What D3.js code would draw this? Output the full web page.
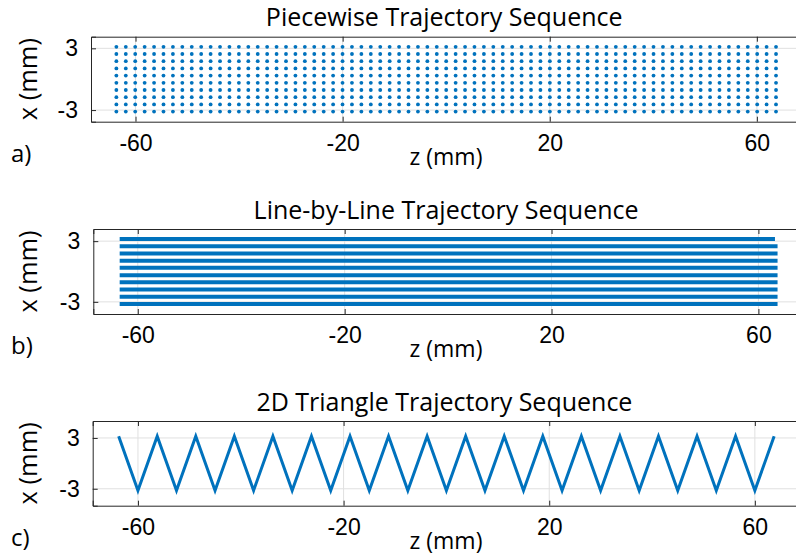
<!DOCTYPE html>
<html>
<head>
<meta charset="utf-8">
<script src="https://cdn.jsdelivr.net/npm/d3@7"></script>
<style>
  html, body { margin: 0; padding: 0; background: #fff; }
  svg { display: block; font-family: "Open Sans", sans-serif; }
</style>
</head>
<body>
<svg width="796" height="557"></svg>
<script>
// ticks
const zTicks = [-60, -20, 20, 60];
const xTicks = [-3, 3];

// a) piecewise: grid of points
const pieceZ = [-63.7, -61.88, -60.06, -58.24, -56.42, -54.6, -52.78, -50.96, -49.14, -47.32,
  -45.5, -43.68, -41.86, -40.04, -38.22, -36.4, -34.58, -32.76, -30.94, -29.12,
  -27.3, -25.48, -23.66, -21.84, -20.02, -18.2, -16.38, -14.56, -12.74, -10.92,
  -9.1, -7.28, -5.46, -3.64, -1.82, 0, 1.82, 3.64, 5.46, 7.28,
  9.1, 10.92, 12.74, 14.56, 16.38, 18.2, 20.02, 21.84, 23.66, 25.48,
  27.3, 29.12, 30.94, 32.76, 34.58, 36.4, 38.22, 40.04, 41.86, 43.68,
  45.5, 47.32, 49.14, 50.96, 52.78, 54.6, 56.42, 58.24, 60.06, 61.88, 63.7];
const pieceX = [3.15, 2.45, 1.75, 1.05, 0.35, -0.35, -1.05, -1.75, -2.45, -3.15];

// b) line-by-line: one line per row
const lineX = [3.2, 2.49, 1.78, 1.07, 0.36, -0.36, -1.07, -1.78, -2.49, -3.2];
const lineStart = [-63.5, -63.5, -63.5, -63.5, -63.5, -63.5, -63.5, -63.5, -63.5, -63.5];
const lineEnd = [63.2, 63.7, 63.7, 63.7, 63.7, 63.7, 63.7, 63.7, 63.7, 63.7];

// c) triangle zigzag
const triZ = [-63.75, -60, -56.25, -52.5, -48.75, -45, -41.25, -37.5, -33.75, -30,
  -26.25, -22.5, -18.75, -15, -11.25, -7.5, -3.75, 0, 3.75, 7.5,
  11.25, 15, 18.75, 22.5, 26.25, 30, 33.75, 37.5, 41.25, 45,
  48.75, 52.5, 56.25, 60, 63.75];
const triX = [3.2, -3.2, 3.2, -3.2, 3.2, -3.2, 3.2, -3.2, 3.2, -3.2,
  3.2, -3.2, 3.2, -3.2, 3.2, -3.2, 3.2, -3.2, 3.2, -3.2,
  3.2, -3.2, 3.2, -3.2, 3.2, -3.2, 3.2, -3.2, 3.2, -3.2,
  3.2, -3.2, 3.2, -3.2, 3.2];

const BLUE = "#0072bd";
const AXIS = "#262626";
const GRID = "#e0e0e0";
const FS = 23;

const svg = d3.select("svg");

// one panel = box + grid + ticks + labels
function panel(p) {
  const x = d3.scaleLinear().domain(p.zDom).range([p.left, p.right]);
  const y = d3.scaleLinear().domain(p.xDom).range([p.bottom, p.top]);
  const g = svg.append("g");

  // grid
  g.selectAll(".gx").data(zTicks).enter().append("line")
    .attr("x1", d => x(d)).attr("x2", d => x(d))
    .attr("y1", p.top).attr("y2", p.bottom)
    .attr("stroke", GRID).attr("stroke-width", 1);
  g.selectAll(".gy").data(xTicks).enter().append("line")
    .attr("x1", p.left).attr("x2", p.right)
    .attr("y1", d => y(d)).attr("y2", d => y(d))
    .attr("stroke", GRID).attr("stroke-width", 1);

  const plot = g.append("g");

  // axes, ticks inward (matlab style), plain hyphen for minus
  const tl = 5;
  const fmt = d => String(d);
  g.append("g").attr("transform", `translate(0,${p.bottom})`)
    .call(d3.axisBottom(x).tickValues(zTicks).tickSize(-tl).tickPadding(tl + 8).tickFormat(fmt))
    .call(a => a.select(".domain").attr("stroke", AXIS))
    .call(a => a.selectAll("line").attr("stroke", AXIS))
    .call(a => a.selectAll("text").attr("fill", "#000").style("font-size", FS + "px").style("font-family", "inherit"));
  g.append("g").attr("transform", `translate(0,${p.top})`)
    .call(d3.axisTop(x).tickValues(zTicks).tickSize(-tl).tickFormat(""))
    .call(a => a.select(".domain").attr("stroke", AXIS))
    .call(a => a.selectAll("line").attr("stroke", AXIS));
  g.append("g").attr("transform", `translate(${p.left},0)`)
    .call(d3.axisLeft(y).tickValues(xTicks).tickSize(-tl).tickPadding(tl + 8).tickFormat(fmt))
    .call(a => a.select(".domain").attr("stroke", AXIS))
    .call(a => a.selectAll("line").attr("stroke", AXIS))
    .call(a => a.selectAll("text").attr("fill", "#000").style("font-size", FS + "px").style("font-family", "inherit"));

  // titles and labels
  svg.append("text")
    .attr("x", (p.left + p.right) / 2 - 2).attr("y", p.top - 10.5)
    .attr("text-anchor", "middle").style("font-size", "25px")
    .text(p.title);
  svg.append("text")
    .attr("x", 446).attr("y", p.bottom + 43)
    .attr("text-anchor", "middle").style("font-size", FS + "px")
    .text("z (mm)");
  svg.append("text")
    .attr("transform", `translate(37,${(p.top + p.bottom) / 2}) rotate(-90)`)
    .attr("text-anchor", "middle").style("font-size", "25.5px")
    .text("x (mm)");
  svg.append("text")
    .attr("x", 11).attr("y", p.bottom + 40)
    .style("font-size", "24px")
    .text(p.tag);

  return { x, y, plot };
}

// a)
const pa = panel({ title: "Piecewise Trajectory Sequence", tag: "a)",
  left: 91, right: 801.4, top: 36.7, bottom: 121.7, zDom: [-68.6, 68.6], xDom: [-4.13, 4.13] });
const pts = pieceX.flatMap(xv => pieceZ.map(zv => ({ z: zv, x: xv })));
pa.plot.selectAll("circle").data(pts).enter().append("circle")
  .attr("cx", d => pa.x(d.z)).attr("cy", d => pa.y(d.x))
  .attr("r", 1.9).attr("fill", BLUE);

// b)
const pb = panel({ title: "Line-by-Line Trajectory Sequence", tag: "b)",
  left: 93.3, right: 802.9, top: 229, bottom: 314, zDom: [-68.6, 68.6], xDom: [-4.2, 4.2] });
pb.plot.selectAll("line").data(lineX).enter().append("line")
  .attr("x1", (d, i) => pb.x(lineStart[i])).attr("x2", (d, i) => pb.x(lineEnd[i]))
  .attr("y1", d => pb.y(d)).attr("y2", d => pb.y(d))
  .attr("stroke", BLUE).attr("stroke-width", 4);

// c)
const pc = panel({ title: "2D Triangle Trajectory Sequence", tag: "c)",
  left: 92.7, right: 800.1, top: 421, bottom: 505.7, zDom: [-68.8, 68.8], xDom: [-5, 5] });
const tri = triZ.map((zv, i) => ({ z: zv, x: triX[i] }));
pc.plot.append("path").datum(tri)
  .attr("fill", "none").attr("stroke", BLUE).attr("stroke-width", 3)
  .attr("stroke-linejoin", "miter")
  .attr("d", d3.line().x(d => pc.x(d.z)).y(d => pc.y(d.x)));
</script>
</body>
</html>
